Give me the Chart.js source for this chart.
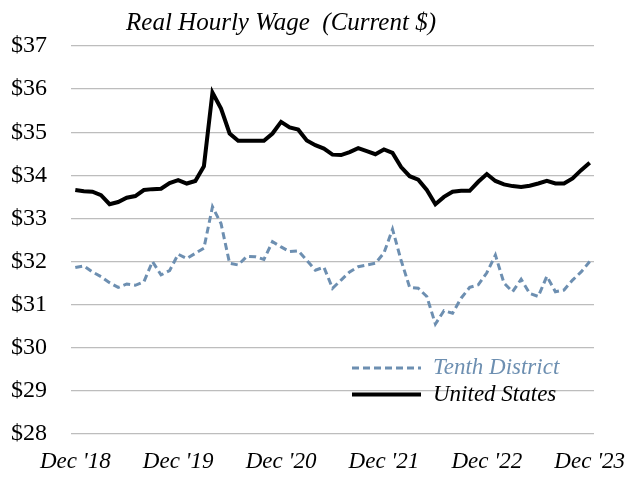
<!DOCTYPE html>
<html>
<head>
<meta charset="utf-8">
<script src="https://cdn.jsdelivr.net/npm/chart.js@4/dist/chart.umd.min.js"></script>
<style>
  html, body { margin: 0; padding: 0; background: #ffffff; }
  #wrap { width: 627px; height: 477px; }
</style>
</head>
<body>
<div id="wrap"><canvas id="c" width="627" height="477"></canvas></div>
<script>
const months = [
  "Dec '18","Jan '19","Feb '19","Mar '19","Apr '19","May '19","Jun '19","Jul '19","Aug '19","Sep '19","Oct '19","Nov '19",
  "Dec '19","Jan '20","Feb '20","Mar '20","Apr '20","May '20","Jun '20","Jul '20","Aug '20","Sep '20","Oct '20","Nov '20",
  "Dec '20","Jan '21","Feb '21","Mar '21","Apr '21","May '21","Jun '21","Jul '21","Aug '21","Sep '21","Oct '21","Nov '21",
  "Dec '21","Jan '22","Feb '22","Mar '22","Apr '22","May '22","Jun '22","Jul '22","Aug '22","Sep '22","Oct '22","Nov '22",
  "Dec '22","Jan '23","Feb '23","Mar '23","Apr '23","May '23","Jun '23","Jul '23","Aug '23","Sep '23","Oct '23","Nov '23",
  "Dec '23"
];
const tickLabels = ["Dec '18","Dec '19","Dec '20","Dec '21","Dec '22","Dec '23"];

const tenthDistrict = [
  31.86, 31.90, 31.76, 31.65, 31.51, 31.40, 31.48, 31.45, 31.53, 32.00, 31.69, 31.79,
  32.17, 32.07, 32.19, 32.31, 33.27, 32.88, 31.96, 31.92, 32.12, 32.11, 32.05, 32.46,
  32.34, 32.23, 32.25, 32.03, 31.80, 31.87, 31.38, 31.57, 31.76, 31.88, 31.92, 31.96,
  32.20, 32.75, 32.03, 31.40, 31.38, 31.19, 30.55, 30.86, 30.80, 31.15, 31.40, 31.46,
  31.74, 32.15, 31.50, 31.30, 31.59, 31.26, 31.19, 31.66, 31.30, 31.34, 31.57, 31.76,
  32.00
];
const unitedStates = [
  33.66, 33.63, 33.62, 33.54, 33.33, 33.38, 33.48, 33.52, 33.66, 33.68, 33.69, 33.82,
  33.89, 33.81, 33.87, 34.21, 35.92, 35.55, 34.97, 34.80, 34.80, 34.80, 34.80, 34.97,
  35.24, 35.11, 35.06, 34.81, 34.70, 34.62, 34.48, 34.47, 34.54, 34.63, 34.56, 34.49,
  34.60, 34.52, 34.19, 33.98, 33.90, 33.66, 33.33, 33.50, 33.62, 33.64, 33.64, 33.85,
  34.03, 33.87, 33.79, 33.75, 33.73, 33.76, 33.81, 33.87, 33.81, 33.81, 33.93, 34.12,
  34.29
];
const seriesNames = ["Tenth District", "United States"];
const titleText = "Real Hourly Wage  (Current $)";

const serif = "'Liberation Serif', 'Times New Roman', serif";
const tenthColor = "#6d8fb1";

const overlayPlugin = {
  id: 'overlay',
  afterDraw(chart) {
    const ctx = chart.ctx;
    ctx.save();
    // title
    ctx.fillStyle = '#000000';
    ctx.font = "italic 25px " + serif;
    ctx.textAlign = 'center';
    ctx.textBaseline = 'alphabetic';
    ctx.fillText(titleText, 281, 30);
    // legend
    const items = [
      { name: seriesNames[0], color: tenthColor, dash: [7, 4], width: 3, y: 368 },
      { name: seriesNames[1], color: '#000000', dash: [], width: 4, y: 394.5 }
    ];
    ctx.textAlign = 'left';
    ctx.textBaseline = 'middle';
    ctx.font = "italic 23px " + serif;
    items.forEach(it => {
      ctx.beginPath();
      ctx.setLineDash(it.dash);
      ctx.lineWidth = it.width;
      ctx.strokeStyle = it.color;
      ctx.moveTo(352, it.y);
      ctx.lineTo(421, it.y);
      ctx.stroke();
      ctx.setLineDash([]);
      ctx.fillStyle = it.color;
      ctx.fillText(it.name, 433, it.y);
    });
    ctx.restore();
  }
};

new Chart(document.getElementById('c'), {
  type: 'line',
  data: {
    labels: months,
    datasets: [
      {
        label: seriesNames[0],
        data: tenthDistrict,
        borderColor: tenthColor,
        borderWidth: 3,
        borderDash: [7, 4],
        pointRadius: 0,
        tension: 0,
        fill: false
      },
      {
        label: seriesNames[1],
        data: unitedStates,
        borderColor: '#000000',
        borderWidth: 4,
        pointRadius: 0,
        tension: 0,
        fill: false
      }
    ]
  },
  options: {
    responsive: false,
    animation: false,
    devicePixelRatio: 1,
    layout: { padding: { left: 0, right: 33, top: 46, bottom: 0 } },
    plugins: {
      legend: { display: false },
      title: { display: false },
      tooltip: { enabled: false }
    },
    scales: {
      x: {
        type: 'category',
        offset: true,
        grid: { display: false, drawTicks: false },
        border: { display: false },
        afterFit(scale) { scale.height = 43; scale.paddingRight = 0; scale.paddingLeft = 0; },
        ticks: {
          autoSkip: false,
          maxRotation: 0,
          minRotation: 0,
          padding: 14,
          color: '#000000',
          font: { family: serif, size: 23, style: 'italic' },
          callback(value, index) {
            const l = months[index];
            return tickLabels.includes(l) ? l : '';
          }
        }
      },
      y: {
        min: 28,
        max: 37,
        grid: { color: '#bdbdbd', lineWidth: 1.3, drawTicks: false },
        border: { display: false },
        afterFit(scale) { scale.width = 71; },
        ticks: {
          stepSize: 1,
          padding: 24,
          color: '#000000',
          font: { family: serif, size: 24 },
          callback(v) { return '$' + v; }
        }
      }
    }
  },
  plugins: [overlayPlugin]
});
</script>
</body>
</html>
